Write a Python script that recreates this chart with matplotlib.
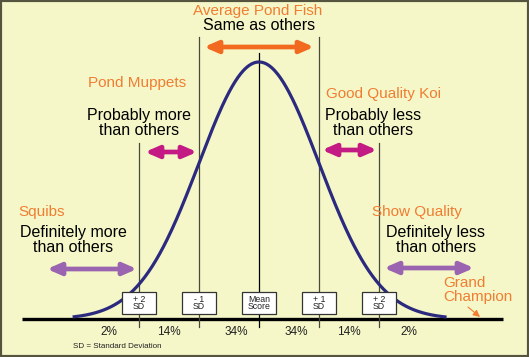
import numpy as np
import matplotlib.pyplot as plt
from matplotlib.patches import Rectangle

plt.rcParams['font.family'] = ['Liberation Sans', 'DejaVu Sans']

# DATA
sd_pos = [-2, -1, 0, 1, 2]
box_labels = ["+ 2\nSD", "- 1\nSD", "Mean\nScore", "+ 1\nSD", "+ 2\nSD"]
band_mid = [-2.5, -1.5, -0.5, 0.5, 1.5, 2.5]
band_pct = ["2%", "14%", "34%", "34%", "14%", "2%"]
curve_lo, curve_hi = -3.08, 3.1

# COLOURS
bg = "#f5f7c8"
orange = "#f07d32"
orange_arrow = "#f26a1f"
magenta = "#c41a84"
purple = "#9a64b0"
navy = "#2b2a7e"
grey = "#4a4a3c"

W, H = 529, 357
fig = plt.figure(figsize=(W / 100, H / 100), dpi=100, facecolor=bg)
ax = fig.add_axes([0, 0, 1, 1])
ax.set_facecolor(bg)

# 1 SD = 60 px, peak = 257 px above baseline (baseline at y=319 px)
SD, PEAK, X0, Y0 = 60.0, 257.0, 259.0, 319.0
ax.set_xlim((0 - X0) / SD, (W - X0) / SD)
ax.set_ylim(-(H - Y0) / PEAK, Y0 / PEAK)
ax.axis("off")


def px(x):
    return (x - X0) / SD


def py(y):
    return (Y0 - y) / PEAK


# border
ax.add_patch(Rectangle((0, 0), 1, 1, transform=ax.transAxes, fill=False,
                       ec="#55553f", lw=3, clip_on=False))

# baseline
ax.plot([px(22), px(503)], [0, 0], color="black", lw=2.4, solid_capstyle="butt")

# vertical SD lines
tops = {-2: 143, -1: 37, 0: 53, 1: 37, 2: 143}
for s in sd_pos:
    c = "black" if s == 0 else grey
    ax.plot([s, s], [py(327), py(tops[s])], color=c, lw=0.9)

# bell curve
xs = np.linspace(curve_lo, curve_hi, 400)
ax.plot(xs, np.exp(-xs ** 2 / 2), color=navy, lw=2.3)

# SD boxes
for s, lab in zip(sd_pos, box_labels):
    ax.add_patch(Rectangle((s - 17 / SD, py(314)), 34 / SD, 22 / PEAK,
                           fc="white", ec="#333333", lw=0.9, zorder=3))
    ax.text(s, py(303), lab, ha="center", va="center", fontsize=6.3,
            linespacing=0.85, zorder=4, color="#222222")

# percentages
for m, p in zip(band_mid, band_pct):
    ax.text(m + (0.12 if abs(m) < 1 else 0.0), py(332), p, ha="center",
            va="center", fontsize=8.5, color="#222222")

ax.text(px(73), py(347), "SD = Standard Deviation", ha="left", va="center",
        fontsize=5.8, color="#222222")


def arrow(x1, x2, y, color):
    ax.annotate("", xy=(px(x2), py(y)), xytext=(px(x1), py(y)),
                arrowprops=dict(arrowstyle="<|-|>,head_length=0.8,head_width=0.35",
                                color=color, lw=3.4, shrinkA=0, shrinkB=0,
                                mutation_scale=10))


arrow(204, 314, 47, orange_arrow)
arrow(145, 197, 152, magenta)
arrow(322, 377, 150, magenta)
arrow(47, 137, 269, purple)
arrow(384, 474, 268, purple)

# labels
ax.text(px(258), py(11), "Average Pond Fish", ha="center", va="center",
        fontsize=11, color=orange)
ax.text(px(259), py(26), "Same as others", ha="center", va="center",
        fontsize=11.5, color="black")

ax.text(px(137), py(83), "Pond Muppets", ha="center", va="center",
        fontsize=11, color=orange)
ax.text(px(139), py(123), "Probably more\nthan others", ha="center",
        va="center", fontsize=11.5, linespacing=1.0, color="black")

ax.text(px(383), py(94), "Good Quality Koi", ha="center", va="center",
        fontsize=11, color=orange)
ax.text(px(373), py(123), "Probably less\nthan others", ha="center",
        va="center", fontsize=11.5, linespacing=1.0, color="black")

ax.text(px(18), py(212), "Squibs", ha="left", va="center",
        fontsize=11, color=orange)
ax.text(px(73), py(240), "Definitely more\nthan others", ha="center",
        va="center", fontsize=11.5, linespacing=1.0, color="black")

ax.text(px(417), py(212), "Show Quality", ha="center", va="center",
        fontsize=11, color=orange)
ax.text(px(436), py(240), "Definitely less\nthan others", ha="center",
        va="center", fontsize=11.5, linespacing=1.0, color="black")

ax.text(px(443), py(290), "Grand\nChampion", ha="left", va="center",
        fontsize=11, linespacing=1.0, color=orange)
ax.annotate("", xy=(px(480), py(317)), xytext=(px(468), py(307)),
            arrowprops=dict(arrowstyle="-|>,head_length=0.4,head_width=0.2",
                            color=orange, lw=0.8, shrinkA=0, shrinkB=0))

fig.savefig("out.png", dpi=100, facecolor=bg)
